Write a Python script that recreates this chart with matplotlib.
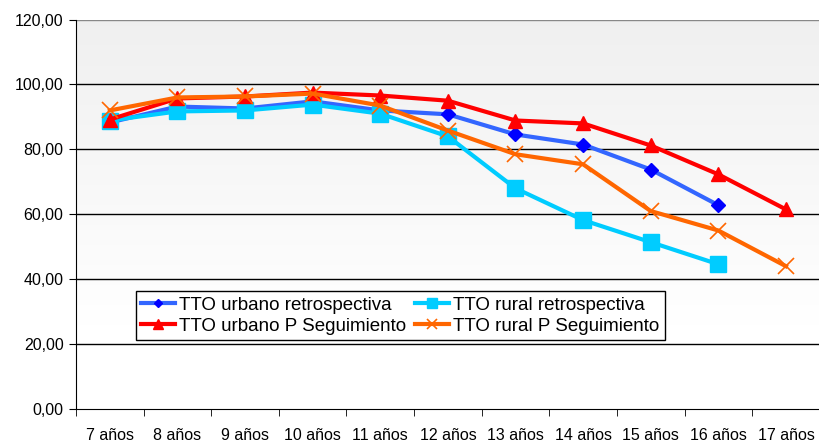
import matplotlib
matplotlib.use("Agg")
import matplotlib.pyplot as plt
import numpy as np

plt.rcParams['font.family'] = ['Liberation Sans', 'DejaVu Sans']

edades = ['7 años', '8 años', '9 años', '10 años', '11 años', '12 años',
          '13 años', '14 años', '15 años', '16 años', '17 años']
urbano_retro = [88.3, 93.2, 92.6, 94.8, 92.0, 90.8, 84.6, 81.5, 73.8, 62.8]
rural_retro = [88.9, 91.7, 92.0, 93.8, 91.0, 84.0, 68.0, 58.2, 51.4, 44.6]
urbano_seg = [89.2, 95.7, 96.3, 97.5, 96.6, 95.0, 88.9, 88.0, 81.2, 72.3, 61.5]
rural_seg = [92.0, 96.0, 96.3, 97.2, 93.5, 85.8, 78.5, 75.4, 61.0, 55.0, 44.0]
yticks = [0, 20, 40, 60, 80, 100, 120]

fig = plt.figure(figsize=(8.2, 4.42), dpi=100)
ax = fig.add_axes([0.0927, 0.0747, 0.907, 0.881])

# fondo degradado gris claro
grad = np.linspace(0.94, 1.0, 256)
grad = np.concatenate([grad, np.ones(70)])[:, None]
ax.imshow(np.repeat(grad[:, :, None], 3, axis=2), extent=(-0.5, 10.5, 0, 120),
          origin='upper', aspect='auto', zorder=0)

for v in yticks[1:-1]:
    ax.axhline(v, color='black', lw=1, zorder=1)
ax.axhline(120, color='#888888', lw=1, zorder=1)

x = np.arange(len(edades))
l1, = ax.plot(x[:len(urbano_retro)], urbano_retro, color='#3366ff', lw=3,
              marker='D', ms=7, mfc='#0000ff', mec='#0000ff', label='TTO urbano retrospectiva', zorder=3)
l2, = ax.plot(x[:len(rural_retro)], rural_retro, color='#00ccff', lw=3,
              marker='s', ms=11, mfc='#00ccff', mec='#00ccff', label='TTO rural retrospectiva', zorder=3)
l3, = ax.plot(x, urbano_seg, color='#ff0000', lw=3,
              marker='^', ms=10, mfc='#ff0000', mec='#ff0000', label='TTO urbano P Seguimiento', zorder=3)
l4, = ax.plot(x, rural_seg, color='#ff6600', lw=3,
              marker='x', ms=12, mew=1.2, mec='#ff6600', label='TTO rural P Seguimiento', zorder=3)

ax.set_xlim(-0.5, 10.5)
ax.set_ylim(0, 120)
ax.set_yticks(yticks)
ax.set_yticklabels(['%d,00' % v for v in yticks], fontsize=11.5)
ax.set_xticks(x)
ax.set_xticklabels(edades, fontsize=11.5)
ax.set_xticks(np.arange(-0.5, 11, 1), minor=True)
ax.tick_params(axis='x', which='major', length=0, pad=14)
ax.tick_params(axis='x', which='minor', length=5, direction='out', color='black')
ax.tick_params(axis='y', length=5, direction='out', color='black', pad=4)

for s in ['top', 'right']:
    ax.spines[s].set_visible(False)
ax.spines['left'].set_color('black')
ax.spines['bottom'].set_color('black')

# orden por filas como en el original
handles = [l1, l3, l2, l4]
leg = ax.legend(handles, [h.get_label() for h in handles], ncol=2,
                loc='lower left', bbox_to_anchor=(0.08, 0.176),
                fontsize=13.5, frameon=True, fancybox=False, framealpha=1,
                edgecolor='black', handlelength=1.8, handletextpad=0.2,
                columnspacing=0.5, borderpad=0.3, labelspacing=0.2,
                markerscale=0.65, borderaxespad=0)
leg.get_frame().set_linewidth(1)
leg.set_zorder(5)

fig.savefig('out.png', dpi=100)
